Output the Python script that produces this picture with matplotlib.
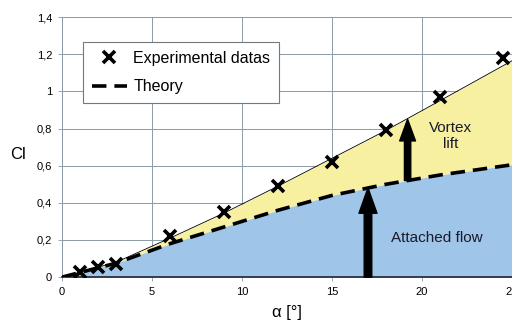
import matplotlib.pyplot as plt

plt.rcParams['font.family'] = ['Liberation Sans', 'DejaVu Sans']

# experimental lift coefficient
alpha_exp = [1, 2, 3, 6, 9, 12, 15, 18, 21, 24.5]
cl_exp = [0.03, 0.055, 0.07, 0.22, 0.35, 0.49, 0.62, 0.79, 0.97, 1.18]

# theory curves: attached flow alone and attached flow + vortex lift
alpha_th = [0, 3, 6, 9, 12, 15, 18, 21, 25]
cl_attached = [0, 0.075, 0.18, 0.27, 0.36, 0.44, 0.50, 0.55, 0.605]
cl_total = [0, 0.08, 0.21, 0.345, 0.49, 0.64, 0.79, 0.95, 1.165]

xticks = [0, 5, 10, 15, 20, 25]
yticks = [0, 0.2, 0.4, 0.6, 0.8, 1.0, 1.2, 1.4]
ytick_labels = ['0', '0,2', '0,4', '0,6', '0,8', '1', '1,2', '1,4']

yellow = '#f6f0a0'
blue = '#9fc5e8'
grid_col = '#8a9aa8'

fig = plt.figure(figsize=(5.12, 3.23), dpi=100)
ax = fig.add_axes([0.121, 0.142, 0.879, 0.805])

ax.fill_between(alpha_th, cl_attached, cl_total, color=yellow, lw=0, zorder=1)
ax.fill_between(alpha_th, 0, cl_attached, color=blue, lw=0, zorder=1)
ax.plot(alpha_th, cl_total, color='black', lw=0.6, zorder=3)
ax.plot(alpha_th, cl_attached, color='black', lw=2.6, dashes=(4, 2.2),
        zorder=4, label='Theory')
ax.plot(alpha_exp, cl_exp, ls='none', marker='x', ms=9, mew=2.6,
        color='black', zorder=5, label='Experimental datas')

# arrows marking the two lift contributions
arrow_big = dict(arrowstyle='simple,head_length=1.4,head_width=1.0,tail_width=0.42',
                 mutation_scale=13, color='black', shrinkA=0, shrinkB=0)
arrow_small = dict(arrowstyle='simple,head_length=1.3,head_width=0.95,tail_width=0.38',
                   mutation_scale=12, color='black', shrinkA=0, shrinkB=0)
ax.annotate('', xy=(17, 0.48), xytext=(17, 0), arrowprops=arrow_big, zorder=6)
ax.annotate('', xy=(19.2, 0.85), xytext=(19.2, 0.52), arrowprops=arrow_small, zorder=6)

ax.text(21.6, 0.76, 'Vortex\nlift', ha='center', va='center', fontsize=11,
        color='#1a1a2a', linespacing=1.1, zorder=7)
ax.text(20.8, 0.21, 'Attached flow', ha='center', va='center', fontsize=11,
        color='#1a1a2a', zorder=7)

ax.set_xlim(0, 25)
ax.set_ylim(0, 1.4)
ax.set_xticks(xticks)
ax.set_yticks(yticks)
ax.set_yticklabels(ytick_labels)
ax.tick_params(labelsize=8, length=3, width=0.6, color=grid_col, pad=4)
ax.grid(True, color=grid_col, lw=0.7, zorder=0)
ax.set_axisbelow(True)
for side in ['top', 'left', 'right']:
    ax.spines[side].set_color(grid_col)
    ax.spines[side].set_linewidth(0.7)
ax.spines['bottom'].set_color('#222233')
ax.spines['bottom'].set_linewidth(1.2)

ax.set_xlabel('α [°]', fontsize=12, labelpad=6)
ax.set_ylabel('Cl', fontsize=12, rotation=0, va='center', ha='center')
ax.yaxis.set_label_coords(-0.098, 0.47)

handles, labels = ax.get_legend_handles_labels()
leg = ax.legend(handles[::-1], labels[::-1], loc='upper left',
                bbox_to_anchor=(0.047, 0.904), borderaxespad=0, fontsize=11.5,
                fancybox=False, framealpha=1, edgecolor='#777777',
                handlelength=2.2, handletextpad=0.4, borderpad=0.55,
                labelspacing=0.85)
leg.get_frame().set_linewidth(0.8)
leg.set_zorder(8)

fig.savefig('out.png', dpi=100)
